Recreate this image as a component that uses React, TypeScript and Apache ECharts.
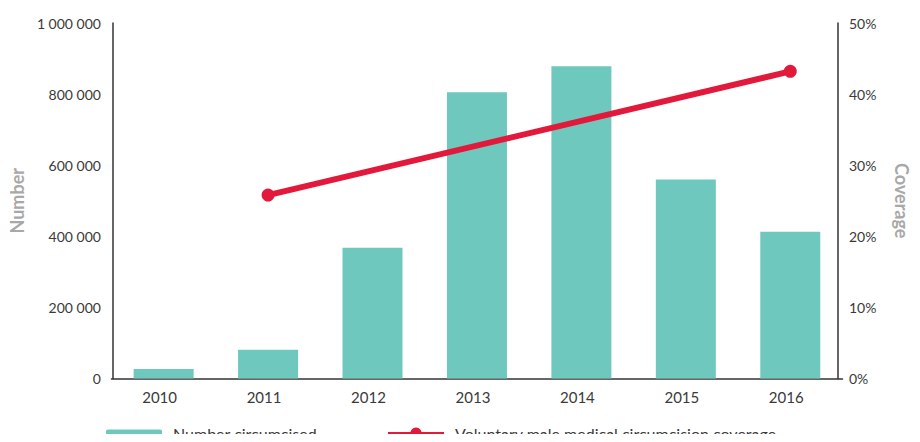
import React, { useEffect, useRef } from "react";
import * as echarts from "echarts";

const years = ["2010", "2011", "2012", "2013", "2014", "2015", "2016"];
const numberCircumcised = [27000, 81000, 368000, 805000, 878000, 560000, 413000];
const coverage = [null, 25.8, null, null, null, null, 43.2];
const barName = "Number circumcised";
const lineName = "Voluntary male medical circumcision coverage";

const FONT = "Lato, 'Noto Sans', sans-serif";
const TEAL = "#6fc8bd";
const RED = "#e3193b";
const TEXT = "#3a3a3a";
const TITLE = "#a8a8a8";

function fmtNumber(v: number) {
  return String(Math.round(v)).replace(/\B(?=(\d{3})+(?!\d))/g, " ");
}

export default function App() {
  const ref = useRef<HTMLDivElement>(null);
  useEffect(() => {
    if (!ref.current) return;
    const chart = echarts.init(ref.current, null, { renderer: "svg" });
    chart.setOption({
      animation: false,
      textStyle: { fontFamily: FONT },
      grid: { left: 106.5, right: 77.5, top: 23, bottom: 63.5, containLabel: false },
      legend: [
        {
          data: [barName],
          left: 106,
          top: 425,
          padding: 0,
          itemWidth: 56,
          itemHeight: 7,
          itemGap: 0,
          textStyle: { fontFamily: FONT, fontSize: 16, color: TEXT, padding: [0, 0, 0, 6] },
        },
        {
          data: [lineName],
          left: 387,
          top: 425,
          padding: 0,
          itemWidth: 56,
          itemHeight: 14,
          textStyle: { fontFamily: FONT, fontSize: 16, color: TEXT, padding: [0, 0, 0, 6] },
        },
      ],
      xAxis: {
        type: "category",
        data: years,
        axisLine: { lineStyle: { color: "#333", width: 1.5 } },
        axisTick: { show: false },
        axisLabel: { color: TEXT, fontSize: 15, margin: 11, padding: [0, 8, 0, 0], fontFamily: FONT },
      },
      yAxis: [
        {
          type: "value",
          min: 0,
          max: 1000000,
          interval: 200000,
          offset: -1.5,
          name: "Number",
          nameLocation: "middle",
          nameGap: 77,
          nameTextStyle: { color: TITLE, fontSize: 18, fontWeight: "bold", fontFamily: FONT },
          axisLine: { show: true, lineStyle: { color: "#333", width: 1.5 } },
          axisTick: { show: false },
          splitLine: { show: false },
          axisLabel: { color: TEXT, fontSize: 14, margin: 12, formatter: (v: number) => fmtNumber(v), fontFamily: FONT },
        },
        {
          type: "value",
          position: "right",
          min: 0,
          max: 50,
          interval: 10,
          offset: -4.5,
          name: "Coverage",
          nameLocation: "middle",
          nameGap: 55,
          nameRotate: -90,
          nameTextStyle: { color: TITLE, fontSize: 18, fontWeight: "bold", fontFamily: FONT },
          axisLine: { show: true, lineStyle: { color: "#333", width: 1.5 } },
          axisTick: { show: false },
          splitLine: { show: false },
          axisLabel: { color: TEXT, fontSize: 14, margin: 11, formatter: (v: number) => `${v}%`, fontFamily: FONT },
        },
      ],
      series: [
        {
          name: barName,
          type: "bar",
          data: numberCircumcised,
          yAxisIndex: 0,
          barWidth: 60,
          itemStyle: { color: TEAL },
        },
        {
          name: lineName,
          type: "line",
          data: coverage,
          yAxisIndex: 1,
          connectNulls: true,
          symbol: "circle",
          symbolSize: 13,
          itemStyle: { color: RED },
          lineStyle: { color: RED, width: 6 },
        },
      ],
    });
    return () => chart.dispose();
  }, []);
  return <div ref={ref} style={{ width: 920, height: 442, margin: -8 }} />;
}
